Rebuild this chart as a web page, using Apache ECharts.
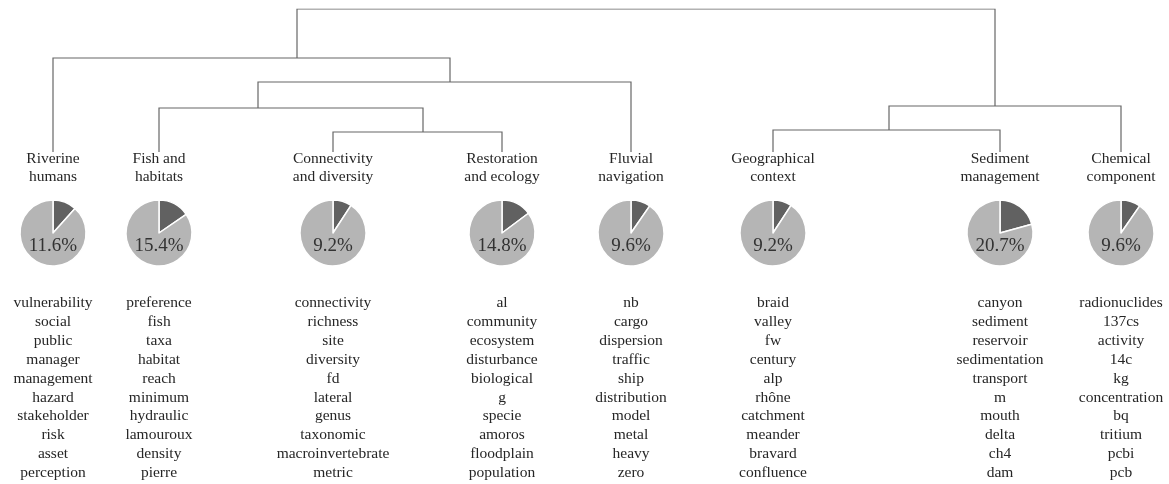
<!DOCTYPE html>
<html>
<head>
<meta charset="utf-8">
<script src="https://cdn.jsdelivr.net/npm/echarts@6/dist/echarts.min.js"></script>
<style>html,body{margin:0;padding:0;background:#fff}#c{width:1169px;height:484px}</style>
</head>
<body>
<div id="c"></div>
<script>
// ---- data ----
const clusters = ['Riverine\nhumans','Fish and\nhabitats','Connectivity\nand diversity','Restoration\nand ecology','Fluvial\nnavigation','Geographical\ncontext','Sediment\nmanagement','Chemical\ncomponent'];
const shares = [11.6, 15.4, 9.2, 14.8, 9.6, 9.2, 20.7, 9.6];
const columnX = [53, 159, 333, 502, 631, 773, 1000, 1121];
const words0 = ['vulnerability','social','public','manager','management','hazard','stakeholder','risk','asset','perception'];
const words1 = ['preference','fish','taxa','habitat','reach','minimum','hydraulic','lamouroux','density','pierre'];
const words2 = ['connectivity','richness','site','diversity','fd','lateral','genus','taxonomic','macroinvertebrate','metric'];
const words3 = ['al','community','ecosystem','disturbance','biological','g','specie','amoros','floodplain','population'];
const words4 = ['nb','cargo','dispersion','traffic','ship','distribution','model','metal','heavy','zero'];
const words5 = ['braid','valley','fw','century','alp','rhône','catchment','meander','bravard','confluence'];
const words6 = ['canyon','sediment','reservoir','sedimentation','transport','m','mouth','delta','ch4','dam'];
const words7 = ['radionuclides','137cs','activity','14c','kg','concentration','bq','tritium','pcbi','pcb'];
const wordLists = [words0, words1, words2, words3, words4, words5, words6, words7];
// dendrogram merges: [childA, childB, height, nodeX]; leaves are 0..7, merges are 8..
const merges = [
  [2, 3, 20, 423],
  [5, 6, 22, 889],
  [1, 8, 44, 258],
  [9, 7, 46, 995],
  [10, 4, 70, 450],
  [0, 12, 94, 297],
  [13, 11, 143, null]
];

// ---- build ----
const nodeX = columnX.slice();
const nodeH = columnX.map(() => 0);
const linkData = [];
merges.forEach(m => {
  const [a, b, h, x] = m;
  linkData.push({coords: [[nodeX[a], nodeH[a]], [nodeX[a], h], [nodeX[b], h], [nodeX[b], nodeH[b]]]});
  nodeX.push(x);
  nodeH.push(h);
});

const FONT = '"Liberation Serif", "Times New Roman", serif';
const TXT = '#262626';
const titles = [];
clusters.forEach((c, i) => {
  titles.push({
    text: c, left: columnX[i], top: 150, textAlign: 'center', padding: 0,
    textStyle: {fontFamily: FONT, fontSize: 15.5, fontWeight: 'normal', color: TXT, lineHeight: 18}
  });
  titles.push({
    text: wordLists[i].join('\n'), left: columnX[i], top: 293.5, textAlign: 'center', padding: 0,
    textStyle: {fontFamily: FONT, fontSize: 15.5, fontWeight: 'normal', color: TXT, lineHeight: 18.9}
  });
});

const series = [{
  type: 'lines', coordinateSystem: 'cartesian2d', polyline: true,
  lineStyle: {color: '#666', width: 1.2, opacity: 1},
  data: linkData, silent: true, z: 1
}];
shares.forEach((s, i) => {
  series.push({
    type: 'pie', center: [columnX[i], 233], radius: 33, startAngle: 90, clockwise: true,
    silent: true, animation: false,
    itemStyle: {borderColor: '#fff', borderWidth: 1.5},
    label: {show: false}, labelLine: {show: false},
    data: [
      {value: s, itemStyle: {color: '#616161'},
       label: {show: true, position: 'center', formatter: s + '%', offset: [0, 13],
               fontFamily: FONT, fontSize: 19, color: '#333'}},
      {value: 100 - s, itemStyle: {color: '#b5b5b5'}}
    ]
  });
});

const chart = echarts.init(document.getElementById('c'), null, {renderer: 'canvas'});
chart.setOption({
  animation: false,
  backgroundColor: '#fff',
  title: titles,
  grid: {left: 0, right: 0, top: 9, bottom: 332, containLabel: false},
  xAxis: {type: 'value', min: 0, max: 1169, show: false},
  yAxis: {type: 'value', min: 0, max: 143, show: false},
  series: series
});
</script>
</body>
</html>
